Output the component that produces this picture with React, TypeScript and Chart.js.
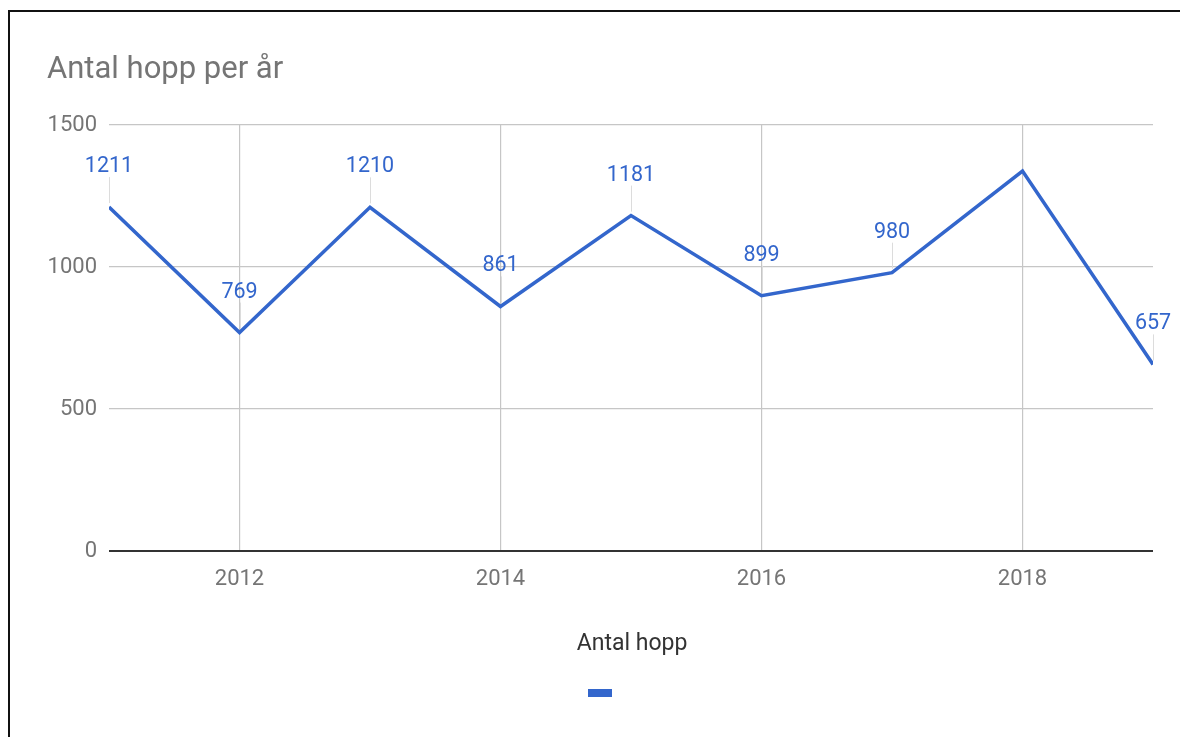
import React, { useEffect, useRef } from "react";
import { Chart, registerables } from "chart.js";

Chart.register(...registerables);

const chartTitle = "Antal hopp per år";
const seriesName = "Antal hopp";
const years = [2011, 2012, 2013, 2014, 2015, 2016, 2017, 2018, 2019];
const hopp = [1211, 769, 1210, 861, 1181, 899, 980, 1338, 657];
const pointLabels = ["1211", "769", "1210", "861", "1181", "899", "980", "", "657"];
const xTicks = [2012, 2014, 2016, 2018];
const yTicks = [0, 500, 1000, 1500];

const BLUE = "#3366cc";
const GREY = "#757575";
const FONT = "Roboto";

const decorPlugin = {
  id: "decor",
  beforeDatasetsDraw(chart: any) {
    const ctx = chart.ctx;
    const meta = chart.getDatasetMeta(0);
    ctx.save();
    ctx.strokeStyle = "#dcdcdc";
    ctx.lineWidth = 1;
    meta.data.forEach((pt: any, i: number) => {
      if (!pointLabels[i]) return;
      const x = Math.round(pt.x) + 0.5;
      ctx.beginPath();
      ctx.moveTo(x, pt.y - 4);
      ctx.lineTo(x, pt.y - 30);
      ctx.stroke();
    });
    ctx.restore();
  },
  afterDatasetsDraw(chart: any) {
    const ctx = chart.ctx;
    const meta = chart.getDatasetMeta(0);
    ctx.save();
    ctx.font = `21.5px ${FONT}`;
    ctx.fillStyle = BLUE;
    ctx.textAlign = "center";
    ctx.textBaseline = "alphabetic";
    meta.data.forEach((pt: any, i: number) => {
      if (!pointLabels[i]) return;
      ctx.fillText(pointLabels[i], pt.x, pt.y - 35);
    });
    ctx.restore();
  },
  afterDraw(chart: any) {
    const ctx = chart.ctx;
    const area = chart.chartArea;
    ctx.save();
    // title
    ctx.font = `31px ${FONT}`;
    ctx.fillStyle = GREY;
    ctx.textAlign = "left";
    ctx.textBaseline = "alphabetic";
    ctx.fillText(chartTitle, 47, 78);
    // legend
    const cx = (area.left + area.right) / 2;
    ctx.font = `23px ${FONT}`;
    ctx.fillStyle = "#333333";
    ctx.textAlign = "center";
    ctx.fillText(seriesName, cx + 1, 650);
    ctx.fillStyle = BLUE;
    ctx.fillRect(cx - 43, 689, 24, 8);
    ctx.restore();
  },
};

export default function App() {
  const canvasRef = useRef<HTMLCanvasElement | null>(null);

  useEffect(() => {
    if (!canvasRef.current) return;
    const chart = new Chart(canvasRef.current, {
      type: "line",
      data: {
        datasets: [
          {
            label: seriesName,
            data: years.map((y, i) => ({ x: y, y: hopp[i] })),
            borderColor: BLUE,
            backgroundColor: BLUE,
            borderWidth: 3.5,
            pointRadius: 0,
            pointHoverRadius: 0,
            tension: 0,
            fill: false,
          },
        ],
      },
      options: {
        animation: false,
        responsive: false,
        devicePixelRatio: 1,
        layout: { padding: { left: 0, right: 27, top: 125, bottom: 136 } },
        plugins: {
          legend: { display: false },
          title: { display: false },
          tooltip: { enabled: false },
        },
        scales: {
          x: {
            type: "linear",
            min: years[0],
            max: years[years.length - 1],
            afterBuildTicks: (scale: any) => {
              scale.ticks = xTicks.map((v) => ({ value: v }));
            },
            afterFit: (scale: any) => {
              scale.height = 50;
            },
            grid: { color: "#c6c6c6", lineWidth: 1.2, drawTicks: false },
            border: { display: false },
            ticks: {
              color: GREY,
              font: { family: FONT, size: 22 },
              padding: 15,
              maxRotation: 0,
              autoSkip: false,
              callback: (v: any) => String(v),
            },
          },
          y: {
            min: 0,
            max: 1500,
            afterBuildTicks: (scale: any) => {
              scale.ticks = yTicks.map((v) => ({ value: v }));
            },
            afterFit: (scale: any) => {
              scale.width = 109;
            },
            grid: {
              color: (c: any) => (c.tick && c.tick.value === 0 ? "#333333" : "#c6c6c6"),
              lineWidth: (c: any) => (c.tick && c.tick.value === 0 ? 2 : 1.2),
              drawTicks: false,
            },
            border: { display: false },
            ticks: {
              color: GREY,
              font: { family: FONT, size: 22 },
              padding: 12,
              callback: (v: any) => String(v),
            },
          },
        },
      },
      plugins: [decorPlugin],
    } as any);
    return () => chart.destroy();
  }, []);

  return (
    <div
      style={{
        position: "fixed",
        left: 0,
        top: 0,
        width: 1180,
        height: 737,
        overflow: "hidden",
        background: "#ffffff",
      }}
    >
      <div
        style={{
          position: "absolute",
          left: 8,
          top: 10,
          width: 1300,
          height: 900,
          border: "2px solid #111111",
          boxSizing: "border-box",
        }}
      />
      <canvas
        ref={canvasRef}
        width={1180}
        height={737}
        style={{ position: "absolute", left: 0, top: 0, width: 1180, height: 737 }}
      />
    </div>
  );
}
